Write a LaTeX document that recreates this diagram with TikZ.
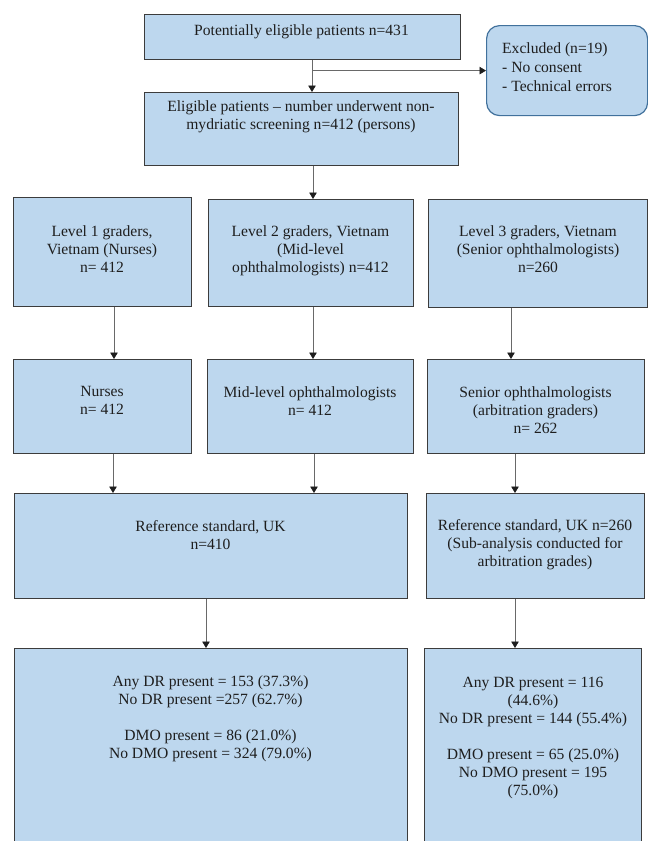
\documentclass[tikz,border=0pt]{standalone}
\usepackage{fontspec}
\setmainfont{Liberation Serif}
\usetikzlibrary{arrows.meta}
\definecolor{boxfill}{RGB}{189,215,238}
\definecolor{boxline}{RGB}{60,60,60}
\definecolor{exline}{RGB}{65,113,156}
\definecolor{arrcol}{RGB}{105,105,105}
\definecolor{tipcol}{RGB}{30,30,30}
\definecolor{txtcol}{RGB}{30,30,30}
\newcommand{\diagfont}{\fontsize{15.6}{18}\selectfont}
\begin{document}
\begin{tikzpicture}[x=1pt,y=-1pt,
  box/.style={draw=boxline, fill=boxfill, line width=0.9pt, inner sep=0pt, anchor=north west},
  exbox/.style={draw=exline, fill=boxfill, line width=1.2pt, rounded corners=13pt, inner sep=0pt, anchor=north west},
  txt/.style={font=\diagfont, align=center, inner sep=0pt, text=txtcol, anchor=north},
  arr/.style={draw=arrcol, line width=0.8pt, -{Triangle[length=6.5pt,width=7.5pt,color=tipcol]}}]
\useasboundingbox (0,0) rectangle (648,841);
\fill[white] (0,0) rectangle (648,841);
\clip (0,0) rectangle (648,841);
% boxes
\node[box, minimum width=316pt, minimum height=45pt] (top) at (144,14) {};
\node[box, minimum width=314pt, minimum height=73pt] (elig) at (144,92) {};
\node[exbox, minimum width=161pt, minimum height=90pt] (excl) at (486,25) {};
\node[box, minimum width=178pt, minimum height=109pt] (l1) at (13,197) {};
\node[box, minimum width=205pt, minimum height=107pt] (l2) at (208,199) {};
\node[box, minimum width=219pt, minimum height=108pt] (l3) at (428,199) {};
\node[box, minimum width=178pt, minimum height=94pt] (nur) at (13,359) {};
\node[box, minimum width=206pt, minimum height=94pt] (mid) at (207,359) {};
\node[box, minimum width=217pt, minimum height=94pt] (sen) at (427,359) {};
\node[box, minimum width=393pt, minimum height=105pt] (refl) at (14,493) {};
\node[box, minimum width=218pt, minimum height=105pt] (refr) at (426,493) {};
\node[box, minimum width=393pt, minimum height=212pt] (resl) at (14,648) {};
\node[box, minimum width=217pt, minimum height=212pt] (resr) at (424,648) {};
% texts
\node[txt] (ttop) at (301.5,24) {Potentially eligible patients n=431};
\node[txt] (telig) at (301,100.5) {Eligible patients -- number underwent non-\\mydriatic screening n=412 (persons)};
\node[txt, anchor=north west, align=left] (texcl) at (502,42.5) {Excluded (n=19)\\[1pt]- No consent\\[1pt]- Technical errors};
\node[txt] (tl1) at (102,225.5) {Level 1 graders,\\Vietnam (Nurses)\\n= 412};
\node[txt] (tl2) at (310.5,225.5) {Level 2 graders, Vietnam\\(Mid-level\\ophthalmologists) n=412};
\node[txt] (tl3) at (538,225.5) {Level 3 graders, Vietnam\\(Senior ophthalmologists)\\n=260};
\node[txt] (tnur) at (102,386.5) {Nurses\\n= 412};
\node[txt] (tmid) at (310,386.5) {Mid-level ophthalmologists\\n= 412};
\node[txt] (tsen) at (535.5,386.5) {Senior ophthalmologists\\(arbitration graders)\\n= 262};
\node[txt] (trefl) at (210.5,520.5) {Reference standard, UK\\n=410};
\node[txt] (trefr) at (535,519.5) {Reference standard, UK n=260\\(Sub-analysis conducted for\\arbitration grades)};
\node[txt] (tresl) at (210.5,675.5) {Any DR present = 153 (37.3\%)\\No DR present =257 (62.7\%)\\[18pt]DMO present = 86 (21.0\%)\\No DMO present = 324 (79.0\%)};
\node[txt] (tresr) at (533,676.5) {Any DR present = 116\\(44.6\%)\\No DR present = 144 (55.4\%)\\[18pt]DMO present = 65 (25.0\%)\\No DMO present = 195\\(75.0\%)};
% connector columns
\coordinate (ca) at (312,0);
\coordinate (cb) at (313,0);
\coordinate (cc) at (114,0);
\coordinate (cd) at (511,0);
\coordinate (ce) at (113,0);
\coordinate (cf) at (314,0);
\coordinate (cg) at (206,0);
\coordinate (ch) at (515,0);
% connectors
\draw[arr] (top.south -| ca) -- (elig.north -| ca);
\draw[arr] (excl.west -| ca) -- (excl.west);
\draw[arr] (elig.south -| cb) -- (l2.north -| cb);
\draw[arr] (l1.south -| cc) -- (nur.north -| cc);
\draw[arr] (l2.south -| cb) -- (mid.north -| cb);
\draw[arr] (l3.south -| cd) -- (sen.north -| cd);
\draw[arr] (nur.south -| ce) -- (refl.north -| ce);
\draw[arr] (mid.south -| cf) -- (refl.north -| cf);
\draw[arr] (sen.south -| ch) -- (refr.north -| ch);
\draw[arr] (refl.south -| cg) -- (resl.north -| cg);
\draw[arr] (refr.south -| ch) -- (resr.north -| ch);
\end{tikzpicture}
\end{document}
